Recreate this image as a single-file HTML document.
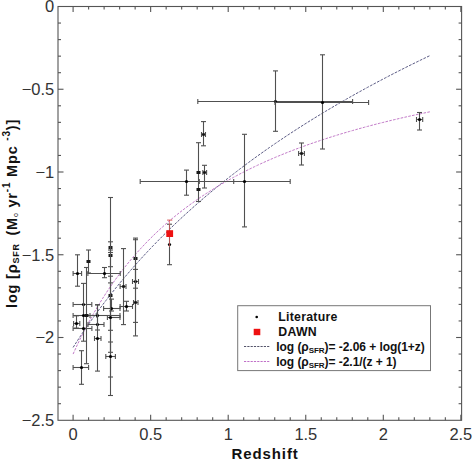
<!DOCTYPE html>
<html><head><meta charset="utf-8"><style>
html,body{margin:0;padding:0;background:#fff;}
svg{display:block;}
</style></head><body>
<svg width="473" height="463" viewBox="0 0 473 463">
<rect width="473" height="463" fill="#fff"/>
<path d="M73.10,347.43 L76.07,342.79 L79.05,338.24 L82.02,333.77 L84.99,329.38 L87.96,325.07 L90.94,320.83 L93.91,316.66 L96.88,312.57 L99.85,308.54 L102.83,304.58 L105.80,300.68 L108.77,296.84 L111.75,293.06 L114.72,289.34 L117.69,285.68 L120.66,282.06 L123.64,278.51 L126.61,275.00 L129.58,271.54 L132.56,268.13 L135.53,264.77 L138.50,261.45 L141.47,258.18 L144.45,254.95 L147.42,251.76 L150.39,248.62 L153.36,245.51 L156.34,242.44 L159.31,239.41 L162.28,236.42 L165.26,233.46 L168.23,230.54 L171.20,227.66 L174.17,224.81 L177.15,221.99 L180.12,219.20 L183.09,216.44 L186.06,213.72 L189.04,211.02 L192.01,208.36 L194.98,205.72 L197.96,203.11 L200.93,200.53 L203.90,197.97 L206.87,195.45 L209.85,192.94 L212.82,190.47 L215.79,188.02 L218.76,185.59 L221.74,183.19 L224.71,180.81 L227.68,178.45 L230.66,176.11 L233.63,173.80 L236.60,171.51 L239.57,169.24 L242.55,166.99 L245.52,164.76 L248.49,162.56 L251.46,160.37 L254.44,158.20 L257.41,156.05 L260.38,153.92 L263.36,151.80 L266.33,149.71 L269.30,147.63 L272.27,145.57 L275.25,143.53 L278.22,141.51 L281.19,139.50 L284.17,137.51 L287.14,135.53 L290.11,133.57 L293.08,131.63 L296.06,129.70 L299.03,127.78 L302.00,125.88 L304.97,124.00 L307.95,122.13 L310.92,120.27 L313.89,118.43 L316.87,116.60 L319.84,114.79 L322.81,112.99 L325.78,111.20 L328.76,109.42 L331.73,107.66 L334.70,105.91 L337.67,104.17 L340.65,102.45 L343.62,100.74 L346.59,99.04 L349.57,97.35 L352.54,95.67 L355.51,94.00 L358.48,92.35 L361.46,90.70 L364.43,89.07 L367.40,87.45 L370.38,85.84 L373.35,84.24 L376.32,82.65 L379.29,81.07 L382.27,79.50 L385.24,77.94 L388.21,76.39 L391.18,74.85 L394.16,73.32 L397.13,71.80 L400.10,70.28 L403.08,68.78 L406.05,67.29 L409.02,65.81 L411.99,64.33 L414.97,62.86 L417.94,61.41 L420.91,59.96 L423.88,58.52 L426.86,57.09 L429.83,55.66" fill="none" stroke="#5a5a84" stroke-width="1" stroke-dasharray="2.7 1.3"/>
<path d="M73.10,354.05 L76.07,347.51 L79.05,341.22 L82.02,335.15 L84.99,329.30 L87.96,323.66 L90.94,318.20 L93.91,312.94 L96.88,307.84 L99.85,302.92 L102.83,298.15 L105.80,293.53 L108.77,289.06 L111.75,284.73 L114.72,280.52 L117.69,276.44 L120.66,272.48 L123.64,268.64 L126.61,264.90 L129.58,261.27 L132.56,257.74 L135.53,254.31 L138.50,250.97 L141.47,247.71 L144.45,244.55 L147.42,241.46 L150.39,238.46 L153.36,235.53 L156.34,232.67 L159.31,229.89 L162.28,227.17 L165.26,224.51 L168.23,221.92 L171.20,219.39 L174.17,216.92 L177.15,214.51 L180.12,212.15 L183.09,209.84 L186.06,207.59 L189.04,205.38 L192.01,203.23 L194.98,201.12 L197.96,199.05 L200.93,197.03 L203.90,195.04 L206.87,193.10 L209.85,191.20 L212.82,189.34 L215.79,187.52 L218.76,185.73 L221.74,183.97 L224.71,182.25 L227.68,180.57 L230.66,178.91 L233.63,177.29 L236.60,175.69 L239.57,174.13 L242.55,172.59 L245.52,171.09 L248.49,169.61 L251.46,168.15 L254.44,166.72 L257.41,165.32 L260.38,163.94 L263.36,162.59 L266.33,161.25 L269.30,159.94 L272.27,158.66 L275.25,157.39 L278.22,156.14 L281.19,154.92 L284.17,153.71 L287.14,152.53 L290.11,151.36 L293.08,150.21 L296.06,149.08 L299.03,147.97 L302.00,146.88 L304.97,145.80 L307.95,144.74 L310.92,143.69 L313.89,142.66 L316.87,141.65 L319.84,140.65 L322.81,139.66 L325.78,138.69 L328.76,137.73 L331.73,136.79 L334.70,135.86 L337.67,134.94 L340.65,134.04 L343.62,133.15 L346.59,132.27 L349.57,131.41 L352.54,130.55 L355.51,129.71 L358.48,128.88 L361.46,128.06 L364.43,127.25 L367.40,126.45 L370.38,125.66 L373.35,124.88 L376.32,124.11 L379.29,123.36 L382.27,122.61 L385.24,121.87 L388.21,121.14 L391.18,120.42 L394.16,119.71 L397.13,119.01 L400.10,118.31 L403.08,117.63 L406.05,116.95 L409.02,116.28 L411.99,115.62 L414.97,114.97 L417.94,114.32 L420.91,113.69 L423.88,113.06 L426.86,112.43 L429.83,111.82" fill="none" stroke="#c27ac8" stroke-width="1" stroke-dasharray="2.6 1.3"/>
<line x1="197.80" y1="101.50" x2="352.60" y2="101.50" stroke="#505050" stroke-width="1.1" />
<line x1="197.80" y1="99.00" x2="197.80" y2="104.00" stroke="#505050" stroke-width="1.1" />
<line x1="352.60" y1="99.00" x2="352.60" y2="104.00" stroke="#505050" stroke-width="1.1" />
<line x1="275.50" y1="70.90" x2="275.50" y2="131.30" stroke="#505050" stroke-width="1.1" />
<line x1="273.00" y1="70.90" x2="278.00" y2="70.90" stroke="#505050" stroke-width="1.1" />
<line x1="273.00" y1="131.30" x2="278.00" y2="131.30" stroke="#505050" stroke-width="1.1" />
<circle cx="275.5" cy="101.5" r="1.6" fill="#000"/>
<line x1="275.00" y1="102.50" x2="368.60" y2="102.50" stroke="#505050" stroke-width="1.1" />
<line x1="275.00" y1="100.00" x2="275.00" y2="105.00" stroke="#505050" stroke-width="1.1" />
<line x1="368.60" y1="100.00" x2="368.60" y2="105.00" stroke="#505050" stroke-width="1.1" />
<line x1="322.50" y1="54.80" x2="322.50" y2="149.00" stroke="#505050" stroke-width="1.1" />
<line x1="320.00" y1="54.80" x2="325.00" y2="54.80" stroke="#505050" stroke-width="1.1" />
<line x1="320.00" y1="149.00" x2="325.00" y2="149.00" stroke="#505050" stroke-width="1.1" />
<circle cx="322.5" cy="102.5" r="1.6" fill="#000"/>
<line x1="298.60" y1="153.50" x2="304.40" y2="153.50" stroke="#505050" stroke-width="1.1" />
<line x1="298.60" y1="151.00" x2="298.60" y2="156.00" stroke="#505050" stroke-width="1.1" />
<line x1="304.40" y1="151.00" x2="304.40" y2="156.00" stroke="#505050" stroke-width="1.1" />
<line x1="301.50" y1="143.00" x2="301.50" y2="165.00" stroke="#505050" stroke-width="1.1" />
<line x1="299.00" y1="143.00" x2="304.00" y2="143.00" stroke="#505050" stroke-width="1.1" />
<line x1="299.00" y1="165.00" x2="304.00" y2="165.00" stroke="#505050" stroke-width="1.1" />
<rect x="300.2" y="152.2" width="2.6" height="2.6" fill="#111"/>
<line x1="416.50" y1="119.50" x2="422.70" y2="119.50" stroke="#505050" stroke-width="1.1" />
<line x1="416.50" y1="117.00" x2="416.50" y2="122.00" stroke="#505050" stroke-width="1.1" />
<line x1="422.70" y1="117.00" x2="422.70" y2="122.00" stroke="#505050" stroke-width="1.1" />
<line x1="419.50" y1="112.50" x2="419.50" y2="130.00" stroke="#505050" stroke-width="1.1" />
<line x1="417.00" y1="112.50" x2="422.00" y2="112.50" stroke="#505050" stroke-width="1.1" />
<line x1="417.00" y1="130.00" x2="422.00" y2="130.00" stroke="#505050" stroke-width="1.1" />
<circle cx="419.5" cy="119.5" r="1.6" fill="#000"/>
<line x1="199.30" y1="181.50" x2="290.20" y2="181.50" stroke="#505050" stroke-width="1.1" />
<line x1="199.30" y1="179.00" x2="199.30" y2="184.00" stroke="#505050" stroke-width="1.1" />
<line x1="290.20" y1="179.00" x2="290.20" y2="184.00" stroke="#505050" stroke-width="1.1" />
<line x1="244.50" y1="134.30" x2="244.50" y2="226.90" stroke="#505050" stroke-width="1.1" />
<line x1="242.00" y1="134.30" x2="247.00" y2="134.30" stroke="#505050" stroke-width="1.1" />
<line x1="242.00" y1="226.90" x2="247.00" y2="226.90" stroke="#505050" stroke-width="1.1" />
<circle cx="244.5" cy="181.5" r="1.6" fill="#000"/>
<line x1="140.20" y1="181.50" x2="233.70" y2="181.50" stroke="#505050" stroke-width="1.1" />
<line x1="140.20" y1="179.00" x2="140.20" y2="184.00" stroke="#505050" stroke-width="1.1" />
<line x1="233.70" y1="179.00" x2="233.70" y2="184.00" stroke="#505050" stroke-width="1.1" />
<line x1="186.50" y1="170.10" x2="186.50" y2="195.20" stroke="#505050" stroke-width="1.1" />
<line x1="184.00" y1="170.10" x2="189.00" y2="170.10" stroke="#505050" stroke-width="1.1" />
<line x1="184.00" y1="195.20" x2="189.00" y2="195.20" stroke="#505050" stroke-width="1.1" />
<circle cx="186.5" cy="181.5" r="1.6" fill="#000"/>
<line x1="201.50" y1="134.50" x2="205.50" y2="134.50" stroke="#505050" stroke-width="1.1" />
<line x1="201.50" y1="132.00" x2="201.50" y2="137.00" stroke="#505050" stroke-width="1.1" />
<line x1="205.50" y1="132.00" x2="205.50" y2="137.00" stroke="#505050" stroke-width="1.1" />
<line x1="203.50" y1="121.60" x2="203.50" y2="145.80" stroke="#505050" stroke-width="1.1" />
<line x1="201.00" y1="121.60" x2="206.00" y2="121.60" stroke="#505050" stroke-width="1.1" />
<line x1="201.00" y1="145.80" x2="206.00" y2="145.80" stroke="#505050" stroke-width="1.1" />
<rect x="202.2" y="133.2" width="2.6" height="2.6" fill="#111"/>
<line x1="198.50" y1="142.70" x2="198.50" y2="201.50" stroke="#505050" stroke-width="1.1" />
<line x1="196.00" y1="142.70" x2="201.00" y2="142.70" stroke="#505050" stroke-width="1.1" />
<line x1="196.00" y1="201.50" x2="201.00" y2="201.50" stroke="#505050" stroke-width="1.1" />
<rect x="196.5" y="171.0" width="4" height="3" fill="#1a1a1a"/>
<rect x="196.5" y="188.0" width="4" height="3" fill="#1a1a1a"/>
<line x1="202.80" y1="172.50" x2="206.60" y2="172.50" stroke="#505050" stroke-width="1.1" />
<line x1="202.80" y1="170.00" x2="202.80" y2="175.00" stroke="#505050" stroke-width="1.1" />
<line x1="206.60" y1="170.00" x2="206.60" y2="175.00" stroke="#505050" stroke-width="1.1" />
<line x1="204.50" y1="165.30" x2="204.50" y2="188.00" stroke="#505050" stroke-width="1.1" />
<line x1="202.00" y1="165.30" x2="207.00" y2="165.30" stroke="#505050" stroke-width="1.1" />
<line x1="202.00" y1="188.00" x2="207.00" y2="188.00" stroke="#505050" stroke-width="1.1" />
<rect x="203.2" y="171.2" width="2.6" height="2.6" fill="#111"/>
<line x1="169.50" y1="224.20" x2="169.50" y2="264.70" stroke="#505050" stroke-width="1.1" />
<line x1="167.00" y1="224.20" x2="172.00" y2="224.20" stroke="#505050" stroke-width="1.1" />
<line x1="167.00" y1="264.70" x2="172.00" y2="264.70" stroke="#505050" stroke-width="1.1" />
<circle cx="169.5" cy="244.5" r="1.6" fill="#000"/>
<line x1="73.10" y1="273.50" x2="81.60" y2="273.50" stroke="#505050" stroke-width="1.1" />
<line x1="73.10" y1="271.00" x2="73.10" y2="276.00" stroke="#505050" stroke-width="1.1" />
<line x1="81.60" y1="271.00" x2="81.60" y2="276.00" stroke="#505050" stroke-width="1.1" />
<line x1="77.50" y1="254.80" x2="77.50" y2="286.20" stroke="#505050" stroke-width="1.1" />
<line x1="75.00" y1="254.80" x2="80.00" y2="254.80" stroke="#505050" stroke-width="1.1" />
<line x1="75.00" y1="286.20" x2="80.00" y2="286.20" stroke="#505050" stroke-width="1.1" />
<circle cx="77.5" cy="273.5" r="1.6" fill="#000"/>
<line x1="88.50" y1="250.00" x2="88.50" y2="273.00" stroke="#505050" stroke-width="1.1" />
<line x1="86.00" y1="250.00" x2="91.00" y2="250.00" stroke="#505050" stroke-width="1.1" />
<line x1="86.00" y1="273.00" x2="91.00" y2="273.00" stroke="#505050" stroke-width="1.1" />
<rect x="86.5" y="260.0" width="4" height="3" fill="#1a1a1a"/>
<line x1="87.90" y1="273.50" x2="120.20" y2="273.50" stroke="#505050" stroke-width="1.1" />
<line x1="87.90" y1="271.00" x2="87.90" y2="276.00" stroke="#505050" stroke-width="1.1" />
<line x1="120.20" y1="271.00" x2="120.20" y2="276.00" stroke="#505050" stroke-width="1.1" />
<line x1="104.50" y1="267.50" x2="104.50" y2="277.70" stroke="#505050" stroke-width="1.1" />
<line x1="102.00" y1="267.50" x2="107.00" y2="267.50" stroke="#505050" stroke-width="1.1" />
<line x1="102.00" y1="277.70" x2="107.00" y2="277.70" stroke="#505050" stroke-width="1.1" />
<circle cx="104.5" cy="273.5" r="1.6" fill="#000"/>
<line x1="110.50" y1="241.80" x2="110.50" y2="252.50" stroke="#505050" stroke-width="1.1" />
<line x1="108.00" y1="241.80" x2="113.00" y2="241.80" stroke="#505050" stroke-width="1.1" />
<line x1="108.00" y1="252.50" x2="113.00" y2="252.50" stroke="#505050" stroke-width="1.1" />
<rect x="108.5" y="246.0" width="4" height="3" fill="#1a1a1a"/>
<line x1="110.50" y1="250.00" x2="110.50" y2="266.70" stroke="#505050" stroke-width="1.1" />
<line x1="108.00" y1="250.00" x2="113.00" y2="250.00" stroke="#505050" stroke-width="1.1" />
<line x1="108.00" y1="266.70" x2="113.00" y2="266.70" stroke="#505050" stroke-width="1.1" />
<rect x="108.5" y="254.0" width="4" height="3" fill="#1a1a1a"/>
<line x1="110.50" y1="197.50" x2="110.50" y2="395.50" stroke="#505050" stroke-width="1.1" />
<line x1="108.00" y1="197.50" x2="113.00" y2="197.50" stroke="#505050" stroke-width="1.1" />
<line x1="108.00" y1="395.50" x2="113.00" y2="395.50" stroke="#505050" stroke-width="1.1" />
<rect x="108.5" y="294.0" width="4" height="3" fill="#1a1a1a"/>
<line x1="103.60" y1="308.50" x2="120.00" y2="308.50" stroke="#505050" stroke-width="1.1" />
<line x1="103.60" y1="306.00" x2="103.60" y2="311.00" stroke="#505050" stroke-width="1.1" />
<line x1="120.00" y1="306.00" x2="120.00" y2="311.00" stroke="#505050" stroke-width="1.1" />
<line x1="111.50" y1="299.10" x2="111.50" y2="311.00" stroke="#505050" stroke-width="1.1" />
<line x1="109.00" y1="299.10" x2="114.00" y2="299.10" stroke="#505050" stroke-width="1.1" />
<line x1="109.00" y1="311.00" x2="114.00" y2="311.00" stroke="#505050" stroke-width="1.1" />
<circle cx="111.5" cy="308.5" r="1.6" fill="#000"/>
<line x1="110.50" y1="282.90" x2="110.50" y2="330.30" stroke="#505050" stroke-width="1.1" />
<line x1="108.00" y1="282.90" x2="113.00" y2="282.90" stroke="#505050" stroke-width="1.1" />
<line x1="108.00" y1="330.30" x2="113.00" y2="330.30" stroke="#505050" stroke-width="1.1" />
<line x1="107.40" y1="317.50" x2="120.00" y2="317.50" stroke="#505050" stroke-width="1.1" />
<line x1="107.40" y1="315.00" x2="107.40" y2="320.00" stroke="#505050" stroke-width="1.1" />
<line x1="120.00" y1="315.00" x2="120.00" y2="320.00" stroke="#505050" stroke-width="1.1" />
<line x1="110.50" y1="276.20" x2="110.50" y2="352.30" stroke="#505050" stroke-width="1.1" />
<line x1="108.00" y1="276.20" x2="113.00" y2="276.20" stroke="#505050" stroke-width="1.1" />
<line x1="108.00" y1="352.30" x2="113.00" y2="352.30" stroke="#505050" stroke-width="1.1" />
<circle cx="110.5" cy="317.5" r="1.6" fill="#000"/>
<line x1="105.80" y1="356.50" x2="115.40" y2="356.50" stroke="#505050" stroke-width="1.1" />
<line x1="105.80" y1="354.00" x2="105.80" y2="359.00" stroke="#505050" stroke-width="1.1" />
<line x1="115.40" y1="354.00" x2="115.40" y2="359.00" stroke="#505050" stroke-width="1.1" />
<line x1="110.50" y1="342.00" x2="110.50" y2="377.00" stroke="#505050" stroke-width="1.1" />
<line x1="108.00" y1="342.00" x2="113.00" y2="342.00" stroke="#505050" stroke-width="1.1" />
<line x1="108.00" y1="377.00" x2="113.00" y2="377.00" stroke="#505050" stroke-width="1.1" />
<circle cx="110.5" cy="356.5" r="1.6" fill="#000"/>
<line x1="120.10" y1="286.50" x2="126.00" y2="286.50" stroke="#505050" stroke-width="1.1" />
<line x1="120.10" y1="284.00" x2="120.10" y2="289.00" stroke="#505050" stroke-width="1.1" />
<line x1="126.00" y1="284.00" x2="126.00" y2="289.00" stroke="#505050" stroke-width="1.1" />
<line x1="123.50" y1="248.60" x2="123.50" y2="324.60" stroke="#505050" stroke-width="1.1" />
<line x1="121.00" y1="248.60" x2="126.00" y2="248.60" stroke="#505050" stroke-width="1.1" />
<line x1="121.00" y1="324.60" x2="126.00" y2="324.60" stroke="#505050" stroke-width="1.1" />
<rect x="122.2" y="285.2" width="2.6" height="2.6" fill="#111"/>
<line x1="135.50" y1="238.10" x2="135.50" y2="288.20" stroke="#505050" stroke-width="1.1" />
<line x1="133.00" y1="238.10" x2="138.00" y2="238.10" stroke="#505050" stroke-width="1.1" />
<line x1="133.00" y1="288.20" x2="138.00" y2="288.20" stroke="#505050" stroke-width="1.1" />
<rect x="133.5" y="257.0" width="4" height="3" fill="#1a1a1a"/>
<line x1="132.50" y1="281.50" x2="138.50" y2="281.50" stroke="#505050" stroke-width="1.1" />
<line x1="132.50" y1="279.00" x2="132.50" y2="284.00" stroke="#505050" stroke-width="1.1" />
<line x1="138.50" y1="279.00" x2="138.50" y2="284.00" stroke="#505050" stroke-width="1.1" />
<line x1="135.50" y1="239.70" x2="135.50" y2="322.40" stroke="#505050" stroke-width="1.1" />
<line x1="133.00" y1="239.70" x2="138.00" y2="239.70" stroke="#505050" stroke-width="1.1" />
<line x1="133.00" y1="322.40" x2="138.00" y2="322.40" stroke="#505050" stroke-width="1.1" />
<circle cx="135.5" cy="281.5" r="1.6" fill="#000"/>
<line x1="133.50" y1="302.50" x2="138.00" y2="302.50" stroke="#505050" stroke-width="1.1" />
<line x1="133.50" y1="300.00" x2="133.50" y2="305.00" stroke="#505050" stroke-width="1.1" />
<line x1="138.00" y1="300.00" x2="138.00" y2="305.00" stroke="#505050" stroke-width="1.1" />
<line x1="135.50" y1="269.40" x2="135.50" y2="335.90" stroke="#505050" stroke-width="1.1" />
<line x1="133.00" y1="269.40" x2="138.00" y2="269.40" stroke="#505050" stroke-width="1.1" />
<line x1="133.00" y1="335.90" x2="138.00" y2="335.90" stroke="#505050" stroke-width="1.1" />
<rect x="134.2" y="301.2" width="2.6" height="2.6" fill="#111"/>
<line x1="120.10" y1="306.50" x2="132.50" y2="306.50" stroke="#505050" stroke-width="1.1" />
<line x1="120.10" y1="304.00" x2="120.10" y2="309.00" stroke="#505050" stroke-width="1.1" />
<line x1="132.50" y1="304.00" x2="132.50" y2="309.00" stroke="#505050" stroke-width="1.1" />
<line x1="126.50" y1="301.30" x2="126.50" y2="311.00" stroke="#505050" stroke-width="1.1" />
<line x1="124.00" y1="301.30" x2="129.00" y2="301.30" stroke="#505050" stroke-width="1.1" />
<line x1="124.00" y1="311.00" x2="129.00" y2="311.00" stroke="#505050" stroke-width="1.1" />
<circle cx="126.5" cy="306.5" r="1.6" fill="#000"/>
<line x1="73.10" y1="304.50" x2="91.80" y2="304.50" stroke="#505050" stroke-width="1.1" />
<line x1="73.10" y1="302.00" x2="73.10" y2="307.00" stroke="#505050" stroke-width="1.1" />
<line x1="91.80" y1="302.00" x2="91.80" y2="307.00" stroke="#505050" stroke-width="1.1" />
<circle cx="83.5" cy="304.5" r="1.6" fill="#000"/>
<line x1="73.10" y1="315.50" x2="97.00" y2="315.50" stroke="#505050" stroke-width="1.1" />
<line x1="73.10" y1="313.00" x2="73.10" y2="318.00" stroke="#505050" stroke-width="1.1" />
<line x1="97.00" y1="313.00" x2="97.00" y2="318.00" stroke="#505050" stroke-width="1.1" />
<line x1="83.50" y1="283.40" x2="83.50" y2="341.20" stroke="#505050" stroke-width="1.1" />
<line x1="81.00" y1="283.40" x2="86.00" y2="283.40" stroke="#505050" stroke-width="1.1" />
<line x1="81.00" y1="341.20" x2="86.00" y2="341.20" stroke="#505050" stroke-width="1.1" />
<circle cx="83.5" cy="315.5" r="1.6" fill="#000"/>
<line x1="86.50" y1="267.50" x2="86.50" y2="363.70" stroke="#505050" stroke-width="1.1" />
<line x1="84.00" y1="267.50" x2="89.00" y2="267.50" stroke="#505050" stroke-width="1.1" />
<line x1="84.00" y1="363.70" x2="89.00" y2="363.70" stroke="#505050" stroke-width="1.1" />
<rect x="84.5" y="314.0" width="4" height="3" fill="#1a1a1a"/>
<line x1="73.60" y1="323.50" x2="79.80" y2="323.50" stroke="#505050" stroke-width="1.1" />
<line x1="73.60" y1="321.00" x2="73.60" y2="326.00" stroke="#505050" stroke-width="1.1" />
<line x1="79.80" y1="321.00" x2="79.80" y2="326.00" stroke="#505050" stroke-width="1.1" />
<line x1="76.50" y1="315.80" x2="76.50" y2="328.10" stroke="#505050" stroke-width="1.1" />
<line x1="74.00" y1="315.80" x2="79.00" y2="315.80" stroke="#505050" stroke-width="1.1" />
<line x1="74.00" y1="328.10" x2="79.00" y2="328.10" stroke="#505050" stroke-width="1.1" />
<circle cx="76.5" cy="323.5" r="1.6" fill="#000"/>
<line x1="73.10" y1="328.50" x2="91.90" y2="328.50" stroke="#505050" stroke-width="1.1" />
<line x1="73.10" y1="326.00" x2="73.10" y2="331.00" stroke="#505050" stroke-width="1.1" />
<line x1="91.90" y1="326.00" x2="91.90" y2="331.00" stroke="#505050" stroke-width="1.1" />
<circle cx="83.5" cy="328.5" r="1.6" fill="#000"/>
<line x1="90.00" y1="315.50" x2="120.00" y2="315.50" stroke="#505050" stroke-width="1.1" />
<line x1="90.00" y1="313.00" x2="90.00" y2="318.00" stroke="#505050" stroke-width="1.1" />
<line x1="120.00" y1="313.00" x2="120.00" y2="318.00" stroke="#505050" stroke-width="1.1" />
<line x1="97.50" y1="304.80" x2="97.50" y2="330.00" stroke="#505050" stroke-width="1.1" />
<line x1="95.00" y1="304.80" x2="100.00" y2="304.80" stroke="#505050" stroke-width="1.1" />
<line x1="95.00" y1="330.00" x2="100.00" y2="330.00" stroke="#505050" stroke-width="1.1" />
<circle cx="97.5" cy="315.5" r="1.6" fill="#000"/>
<line x1="88.00" y1="324.50" x2="104.00" y2="324.50" stroke="#505050" stroke-width="1.1" />
<line x1="88.00" y1="322.00" x2="88.00" y2="327.00" stroke="#505050" stroke-width="1.1" />
<line x1="104.00" y1="322.00" x2="104.00" y2="327.00" stroke="#505050" stroke-width="1.1" />
<circle cx="97.5" cy="324.5" r="1.6" fill="#000"/>
<line x1="94.50" y1="338.50" x2="101.00" y2="338.50" stroke="#505050" stroke-width="1.1" />
<line x1="94.50" y1="336.00" x2="94.50" y2="341.00" stroke="#505050" stroke-width="1.1" />
<line x1="101.00" y1="336.00" x2="101.00" y2="341.00" stroke="#505050" stroke-width="1.1" />
<line x1="97.50" y1="304.80" x2="97.50" y2="371.10" stroke="#505050" stroke-width="1.1" />
<line x1="95.00" y1="304.80" x2="100.00" y2="304.80" stroke="#505050" stroke-width="1.1" />
<line x1="95.00" y1="371.10" x2="100.00" y2="371.10" stroke="#505050" stroke-width="1.1" />
<circle cx="97.5" cy="338.5" r="1.6" fill="#000"/>
<line x1="73.10" y1="367.50" x2="88.60" y2="367.50" stroke="#505050" stroke-width="1.1" />
<line x1="73.10" y1="365.00" x2="73.10" y2="370.00" stroke="#505050" stroke-width="1.1" />
<line x1="88.60" y1="365.00" x2="88.60" y2="370.00" stroke="#505050" stroke-width="1.1" />
<line x1="81.50" y1="350.70" x2="81.50" y2="384.30" stroke="#505050" stroke-width="1.1" />
<line x1="79.00" y1="350.70" x2="84.00" y2="350.70" stroke="#505050" stroke-width="1.1" />
<line x1="79.00" y1="384.30" x2="84.00" y2="384.30" stroke="#505050" stroke-width="1.1" />
<circle cx="81.5" cy="367.5" r="1.6" fill="#000"/>
<line x1="169.50" y1="220.10" x2="169.50" y2="247.00" stroke="#e05a5a" stroke-width="0.7" />
<line x1="167.10" y1="220.10" x2="172.30" y2="220.10" stroke="#d03030" stroke-width="0.8" />
<rect x="166.3" y="230.2" width="6.8" height="6.8" fill="#ee1111"/>
<rect x="58.0" y="6.5" width="403.60" height="413.80" fill="none" stroke="#555" stroke-width="1.1"/>
<line x1="73.10" y1="420.3" x2="73.10" y2="414.8" stroke="#555" stroke-width="1.1"/>
<line x1="73.10" y1="6.5" x2="73.10" y2="12.0" stroke="#555" stroke-width="1.1"/>
<line x1="88.61" y1="420.3" x2="88.61" y2="417.3" stroke="#555" stroke-width="1.1"/>
<line x1="88.61" y1="6.5" x2="88.61" y2="9.5" stroke="#555" stroke-width="1.1"/>
<line x1="104.12" y1="420.3" x2="104.12" y2="417.3" stroke="#555" stroke-width="1.1"/>
<line x1="104.12" y1="6.5" x2="104.12" y2="9.5" stroke="#555" stroke-width="1.1"/>
<line x1="119.63" y1="420.3" x2="119.63" y2="417.3" stroke="#555" stroke-width="1.1"/>
<line x1="119.63" y1="6.5" x2="119.63" y2="9.5" stroke="#555" stroke-width="1.1"/>
<line x1="135.14" y1="420.3" x2="135.14" y2="417.3" stroke="#555" stroke-width="1.1"/>
<line x1="135.14" y1="6.5" x2="135.14" y2="9.5" stroke="#555" stroke-width="1.1"/>
<line x1="150.65" y1="420.3" x2="150.65" y2="414.8" stroke="#555" stroke-width="1.1"/>
<line x1="150.65" y1="6.5" x2="150.65" y2="12.0" stroke="#555" stroke-width="1.1"/>
<line x1="166.16" y1="420.3" x2="166.16" y2="417.3" stroke="#555" stroke-width="1.1"/>
<line x1="166.16" y1="6.5" x2="166.16" y2="9.5" stroke="#555" stroke-width="1.1"/>
<line x1="181.67" y1="420.3" x2="181.67" y2="417.3" stroke="#555" stroke-width="1.1"/>
<line x1="181.67" y1="6.5" x2="181.67" y2="9.5" stroke="#555" stroke-width="1.1"/>
<line x1="197.18" y1="420.3" x2="197.18" y2="417.3" stroke="#555" stroke-width="1.1"/>
<line x1="197.18" y1="6.5" x2="197.18" y2="9.5" stroke="#555" stroke-width="1.1"/>
<line x1="212.69" y1="420.3" x2="212.69" y2="417.3" stroke="#555" stroke-width="1.1"/>
<line x1="212.69" y1="6.5" x2="212.69" y2="9.5" stroke="#555" stroke-width="1.1"/>
<line x1="228.20" y1="420.3" x2="228.20" y2="414.8" stroke="#555" stroke-width="1.1"/>
<line x1="228.20" y1="6.5" x2="228.20" y2="12.0" stroke="#555" stroke-width="1.1"/>
<line x1="243.71" y1="420.3" x2="243.71" y2="417.3" stroke="#555" stroke-width="1.1"/>
<line x1="243.71" y1="6.5" x2="243.71" y2="9.5" stroke="#555" stroke-width="1.1"/>
<line x1="259.22" y1="420.3" x2="259.22" y2="417.3" stroke="#555" stroke-width="1.1"/>
<line x1="259.22" y1="6.5" x2="259.22" y2="9.5" stroke="#555" stroke-width="1.1"/>
<line x1="274.73" y1="420.3" x2="274.73" y2="417.3" stroke="#555" stroke-width="1.1"/>
<line x1="274.73" y1="6.5" x2="274.73" y2="9.5" stroke="#555" stroke-width="1.1"/>
<line x1="290.24" y1="420.3" x2="290.24" y2="417.3" stroke="#555" stroke-width="1.1"/>
<line x1="290.24" y1="6.5" x2="290.24" y2="9.5" stroke="#555" stroke-width="1.1"/>
<line x1="305.75" y1="420.3" x2="305.75" y2="414.8" stroke="#555" stroke-width="1.1"/>
<line x1="305.75" y1="6.5" x2="305.75" y2="12.0" stroke="#555" stroke-width="1.1"/>
<line x1="321.26" y1="420.3" x2="321.26" y2="417.3" stroke="#555" stroke-width="1.1"/>
<line x1="321.26" y1="6.5" x2="321.26" y2="9.5" stroke="#555" stroke-width="1.1"/>
<line x1="336.77" y1="420.3" x2="336.77" y2="417.3" stroke="#555" stroke-width="1.1"/>
<line x1="336.77" y1="6.5" x2="336.77" y2="9.5" stroke="#555" stroke-width="1.1"/>
<line x1="352.28" y1="420.3" x2="352.28" y2="417.3" stroke="#555" stroke-width="1.1"/>
<line x1="352.28" y1="6.5" x2="352.28" y2="9.5" stroke="#555" stroke-width="1.1"/>
<line x1="367.79" y1="420.3" x2="367.79" y2="417.3" stroke="#555" stroke-width="1.1"/>
<line x1="367.79" y1="6.5" x2="367.79" y2="9.5" stroke="#555" stroke-width="1.1"/>
<line x1="383.30" y1="420.3" x2="383.30" y2="414.8" stroke="#555" stroke-width="1.1"/>
<line x1="383.30" y1="6.5" x2="383.30" y2="12.0" stroke="#555" stroke-width="1.1"/>
<line x1="398.81" y1="420.3" x2="398.81" y2="417.3" stroke="#555" stroke-width="1.1"/>
<line x1="398.81" y1="6.5" x2="398.81" y2="9.5" stroke="#555" stroke-width="1.1"/>
<line x1="414.32" y1="420.3" x2="414.32" y2="417.3" stroke="#555" stroke-width="1.1"/>
<line x1="414.32" y1="6.5" x2="414.32" y2="9.5" stroke="#555" stroke-width="1.1"/>
<line x1="429.83" y1="420.3" x2="429.83" y2="417.3" stroke="#555" stroke-width="1.1"/>
<line x1="429.83" y1="6.5" x2="429.83" y2="9.5" stroke="#555" stroke-width="1.1"/>
<line x1="445.34" y1="420.3" x2="445.34" y2="417.3" stroke="#555" stroke-width="1.1"/>
<line x1="445.34" y1="6.5" x2="445.34" y2="9.5" stroke="#555" stroke-width="1.1"/>
<line x1="460.85" y1="420.3" x2="460.85" y2="414.8" stroke="#555" stroke-width="1.1"/>
<line x1="460.85" y1="6.5" x2="460.85" y2="12.0" stroke="#555" stroke-width="1.1"/>
<line x1="58.0" y1="23.05" x2="61.0" y2="23.05" stroke="#555" stroke-width="1.1"/>
<line x1="461.6" y1="23.05" x2="458.6" y2="23.05" stroke="#555" stroke-width="1.1"/>
<line x1="58.0" y1="39.60" x2="61.0" y2="39.60" stroke="#555" stroke-width="1.1"/>
<line x1="461.6" y1="39.60" x2="458.6" y2="39.60" stroke="#555" stroke-width="1.1"/>
<line x1="58.0" y1="56.15" x2="61.0" y2="56.15" stroke="#555" stroke-width="1.1"/>
<line x1="461.6" y1="56.15" x2="458.6" y2="56.15" stroke="#555" stroke-width="1.1"/>
<line x1="58.0" y1="72.70" x2="61.0" y2="72.70" stroke="#555" stroke-width="1.1"/>
<line x1="461.6" y1="72.70" x2="458.6" y2="72.70" stroke="#555" stroke-width="1.1"/>
<line x1="58.0" y1="89.25" x2="63.5" y2="89.25" stroke="#555" stroke-width="1.1"/>
<line x1="461.6" y1="89.25" x2="456.1" y2="89.25" stroke="#555" stroke-width="1.1"/>
<line x1="58.0" y1="105.80" x2="61.0" y2="105.80" stroke="#555" stroke-width="1.1"/>
<line x1="461.6" y1="105.80" x2="458.6" y2="105.80" stroke="#555" stroke-width="1.1"/>
<line x1="58.0" y1="122.35" x2="61.0" y2="122.35" stroke="#555" stroke-width="1.1"/>
<line x1="461.6" y1="122.35" x2="458.6" y2="122.35" stroke="#555" stroke-width="1.1"/>
<line x1="58.0" y1="138.90" x2="61.0" y2="138.90" stroke="#555" stroke-width="1.1"/>
<line x1="461.6" y1="138.90" x2="458.6" y2="138.90" stroke="#555" stroke-width="1.1"/>
<line x1="58.0" y1="155.45" x2="61.0" y2="155.45" stroke="#555" stroke-width="1.1"/>
<line x1="461.6" y1="155.45" x2="458.6" y2="155.45" stroke="#555" stroke-width="1.1"/>
<line x1="58.0" y1="172.00" x2="63.5" y2="172.00" stroke="#555" stroke-width="1.1"/>
<line x1="461.6" y1="172.00" x2="456.1" y2="172.00" stroke="#555" stroke-width="1.1"/>
<line x1="58.0" y1="188.55" x2="61.0" y2="188.55" stroke="#555" stroke-width="1.1"/>
<line x1="461.6" y1="188.55" x2="458.6" y2="188.55" stroke="#555" stroke-width="1.1"/>
<line x1="58.0" y1="205.10" x2="61.0" y2="205.10" stroke="#555" stroke-width="1.1"/>
<line x1="461.6" y1="205.10" x2="458.6" y2="205.10" stroke="#555" stroke-width="1.1"/>
<line x1="58.0" y1="221.65" x2="61.0" y2="221.65" stroke="#555" stroke-width="1.1"/>
<line x1="461.6" y1="221.65" x2="458.6" y2="221.65" stroke="#555" stroke-width="1.1"/>
<line x1="58.0" y1="238.20" x2="61.0" y2="238.20" stroke="#555" stroke-width="1.1"/>
<line x1="461.6" y1="238.20" x2="458.6" y2="238.20" stroke="#555" stroke-width="1.1"/>
<line x1="58.0" y1="254.75" x2="63.5" y2="254.75" stroke="#555" stroke-width="1.1"/>
<line x1="461.6" y1="254.75" x2="456.1" y2="254.75" stroke="#555" stroke-width="1.1"/>
<line x1="58.0" y1="271.30" x2="61.0" y2="271.30" stroke="#555" stroke-width="1.1"/>
<line x1="461.6" y1="271.30" x2="458.6" y2="271.30" stroke="#555" stroke-width="1.1"/>
<line x1="58.0" y1="287.85" x2="61.0" y2="287.85" stroke="#555" stroke-width="1.1"/>
<line x1="461.6" y1="287.85" x2="458.6" y2="287.85" stroke="#555" stroke-width="1.1"/>
<line x1="58.0" y1="304.40" x2="61.0" y2="304.40" stroke="#555" stroke-width="1.1"/>
<line x1="461.6" y1="304.40" x2="458.6" y2="304.40" stroke="#555" stroke-width="1.1"/>
<line x1="58.0" y1="320.95" x2="61.0" y2="320.95" stroke="#555" stroke-width="1.1"/>
<line x1="461.6" y1="320.95" x2="458.6" y2="320.95" stroke="#555" stroke-width="1.1"/>
<line x1="58.0" y1="337.50" x2="63.5" y2="337.50" stroke="#555" stroke-width="1.1"/>
<line x1="461.6" y1="337.50" x2="456.1" y2="337.50" stroke="#555" stroke-width="1.1"/>
<line x1="58.0" y1="354.05" x2="61.0" y2="354.05" stroke="#555" stroke-width="1.1"/>
<line x1="461.6" y1="354.05" x2="458.6" y2="354.05" stroke="#555" stroke-width="1.1"/>
<line x1="58.0" y1="370.60" x2="61.0" y2="370.60" stroke="#555" stroke-width="1.1"/>
<line x1="461.6" y1="370.60" x2="458.6" y2="370.60" stroke="#555" stroke-width="1.1"/>
<line x1="58.0" y1="387.15" x2="61.0" y2="387.15" stroke="#555" stroke-width="1.1"/>
<line x1="461.6" y1="387.15" x2="458.6" y2="387.15" stroke="#555" stroke-width="1.1"/>
<line x1="58.0" y1="403.70" x2="61.0" y2="403.70" stroke="#555" stroke-width="1.1"/>
<line x1="461.6" y1="403.70" x2="458.6" y2="403.70" stroke="#555" stroke-width="1.1"/>
<text x="73.10" y="439.6" text-anchor="middle" font-family="Liberation Sans, sans-serif" font-size="16.5" letter-spacing="-0.1" fill="#333">0</text>
<text x="150.65" y="439.6" text-anchor="middle" font-family="Liberation Sans, sans-serif" font-size="16.5" letter-spacing="-0.1" fill="#333">0.5</text>
<text x="228.20" y="439.6" text-anchor="middle" font-family="Liberation Sans, sans-serif" font-size="16.5" letter-spacing="-0.1" fill="#333">1</text>
<text x="305.75" y="439.6" text-anchor="middle" font-family="Liberation Sans, sans-serif" font-size="16.5" letter-spacing="-0.1" fill="#333">1.5</text>
<text x="383.30" y="439.6" text-anchor="middle" font-family="Liberation Sans, sans-serif" font-size="16.5" letter-spacing="-0.1" fill="#333">2</text>
<text x="460.85" y="439.6" text-anchor="middle" font-family="Liberation Sans, sans-serif" font-size="16.5" letter-spacing="-0.1" fill="#333">2.5</text>
<text x="54.0" y="12.30" text-anchor="end" font-family="Liberation Sans, sans-serif" font-size="16.5" letter-spacing="-0.1" fill="#333">0</text>
<text x="54.0" y="95.05" text-anchor="end" font-family="Liberation Sans, sans-serif" font-size="16.5" letter-spacing="-0.1" fill="#333">−0.5</text>
<text x="54.0" y="177.80" text-anchor="end" font-family="Liberation Sans, sans-serif" font-size="16.5" letter-spacing="-0.1" fill="#333">−1</text>
<text x="54.0" y="260.55" text-anchor="end" font-family="Liberation Sans, sans-serif" font-size="16.5" letter-spacing="-0.1" fill="#333">−1.5</text>
<text x="54.0" y="343.30" text-anchor="end" font-family="Liberation Sans, sans-serif" font-size="16.5" letter-spacing="-0.1" fill="#333">−2</text>
<text x="54.0" y="426.05" text-anchor="end" font-family="Liberation Sans, sans-serif" font-size="16.5" letter-spacing="-0.1" fill="#333">−2.5</text>
<rect x="237.7" y="305.7" width="192.8" height="64.9" fill="#fff" stroke="#777" stroke-width="1"/>
<circle cx="256.7" cy="317" r="1.3" fill="#000"/>
<text x="278.3" y="320.9" font-family="Liberation Sans, sans-serif" font-weight="bold" font-size="12.3" letter-spacing="0.25" fill="#111">Literature</text>
<rect x="253.7" y="328.8" width="6.6" height="6.4" fill="#ee1111"/>
<text x="278.3" y="336.1" font-family="Liberation Sans, sans-serif" font-weight="bold" font-size="12.3" letter-spacing="0.25" fill="#111">DAWN</text>
<line x1="244" y1="346.5" x2="270.2" y2="346.5" stroke="#55556a" stroke-width="1" stroke-dasharray="2.2 1.1"/>
<text x="276.3" y="351.3" font-family="Liberation Sans, sans-serif" font-weight="bold" font-size="12" letter-spacing="-0.05" fill="#111">log (ρ<tspan font-size="8" dy="2">SFR</tspan><tspan dy="-2">)= -2.06 + log(1+z)</tspan></text>
<line x1="244" y1="361.5" x2="270.2" y2="361.5" stroke="#c070c8" stroke-width="1" stroke-dasharray="2.2 1.1"/>
<text x="276.3" y="366.2" font-family="Liberation Sans, sans-serif" font-weight="bold" font-size="12" letter-spacing="-0.05" fill="#111">log (ρ<tspan font-size="8" dy="2">SFR</tspan><tspan dy="-2">)= -2.1/(z + 1)</tspan></text>
<text x="265.1" y="458.8" text-anchor="middle" font-family="Liberation Sans, sans-serif" font-weight="bold" font-size="15" letter-spacing="0.9" fill="#111">Redshift</text>
<g transform="translate(16.6,0) rotate(-90)" font-family="Liberation Sans, sans-serif" font-weight="bold" font-size="14.5" letter-spacing="0.8" fill="#111"><text x="-307.9" y="0">log [ρ<tspan font-size="9" dy="2">SFR</tspan></text><text x="-235.6" y="0">(M<tspan font-size="7" font-weight="normal" dy="1">o</tspan><tspan dy="-1"> yr</tspan><tspan font-size="10" dy="-6.5">-1</tspan><tspan dy="6.5"> Mpc </tspan><tspan font-size="10" dy="-6.5">-3</tspan><tspan dy="6.5">)]</tspan></text></g>
</svg>
</body></html>
